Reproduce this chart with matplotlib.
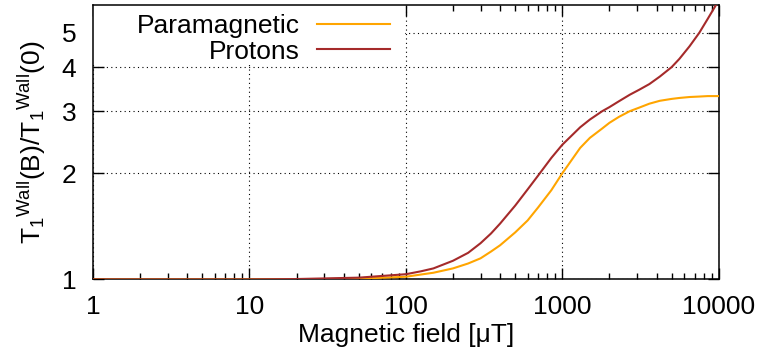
import matplotlib
matplotlib.use("Agg")
import matplotlib.pyplot as plt
from matplotlib.patches import Rectangle
from matplotlib.ticker import FixedLocator, NullLocator, LogLocator, NullFormatter

# =========================
# DATA
# =========================
field_uT = [1, 10, 20, 50, 100, 125, 150, 200, 250, 300, 350, 400, 500,
            600, 700, 850, 1000, 1300, 1500, 1800, 2000, 2300, 2700, 3100,
            3600, 4200, 5000, 5600, 6500, 7500, 8500, 9600, 10000]
paramagnetic = [1.0, 1.0, 1.001, 1.005, 1.018, 1.033, 1.045, 1.075, 1.11,
                1.148, 1.20, 1.25, 1.36, 1.47, 1.60, 1.79, 2.0, 2.36, 2.52,
                2.68, 2.78, 2.89, 3.0, 3.07, 3.15, 3.21, 3.25, 3.27, 3.29,
                3.30, 3.31, 3.31, 3.31]
protons = [1.0, 1.0, 1.003, 1.012, 1.035, 1.055, 1.075, 1.13, 1.19, 1.267,
           1.35, 1.44, 1.62, 1.80, 1.97, 2.21, 2.41, 2.70, 2.84, 3.0, 3.08,
           3.2, 3.34, 3.45, 3.58, 3.76, 4.0, 4.22, 4.58, 5.0, 5.48, 6.0, 6.2]

x_ticks = [1, 10, 100, 1000, 10000]
y_ticks = [1, 2, 3, 4, 5]

plt.rcParams["font.family"] = ["Liberation Sans", "DejaVu Sans"]
plt.rcParams["mathtext.default"] = "regular"
plt.rcParams["font.size"] = 19

fig = plt.figure(figsize=(7.59, 3.54), dpi=100)
ax = fig.add_axes([0.1225, 0.2105, 0.8245, 0.7755])

ax.plot(field_uT, paramagnetic, color="#FFA500", lw=1.5, label="Paramagnetic", zorder=3)
ax.plot(field_uT, protons, color="#A52A2A", lw=1.5, label="Protons", zorder=3)

ax.set_xscale("log")
ax.set_yscale("log")
ax.set_xlim(1, 10000)
ax.set_ylim(1, 6.0)

ax.xaxis.set_major_locator(FixedLocator(x_ticks))
ax.set_xticklabels([str(t) for t in x_ticks])
ax.xaxis.set_minor_locator(LogLocator(base=10, subs=range(2, 10)))
ax.xaxis.set_minor_formatter(NullFormatter())
ax.yaxis.set_major_locator(FixedLocator(y_ticks))
ax.set_yticklabels([str(t) for t in y_ticks])
ax.yaxis.set_minor_locator(NullLocator())

ax.tick_params(which="both", direction="in", top=True, right=True, color="black")
ax.tick_params(which="major", length=8, width=1.0)
ax.tick_params(which="minor", length=4, width=1.0)
ax.tick_params(axis="x", which="major", pad=11)
ax.tick_params(axis="y", which="major", pad=12)

for s in ax.spines.values():
    s.set_linewidth(1.1)

ax.set_axisbelow(True)
ax.grid(True, which="major", color="black", linestyle=(0, (1, 3)), lw=0.8)

# opaque key area (gnuplot style), hides the grid behind the key
ax.add_patch(Rectangle((0, 0.789), 0.498, 0.211, transform=ax.transAxes,
                       facecolor="white", edgecolor="none", zorder=1))

ax.set_xlabel("Magnetic field [μT]", labelpad=3)
ax.set_ylabel("T$_1$$^{Wall}$(B)/T$_1$$^{Wall}$(0)", labelpad=10)

leg = ax.legend(loc="upper right", markerfirst=False, frameon=False,
                handlelength=2.75, handletextpad=0.65,
                labelspacing=0.05, borderaxespad=0.0, borderpad=0.2,
                bbox_to_anchor=(0.4824, 0.985))
leg.set_zorder(5)

fig.savefig("out.png", dpi=100)
